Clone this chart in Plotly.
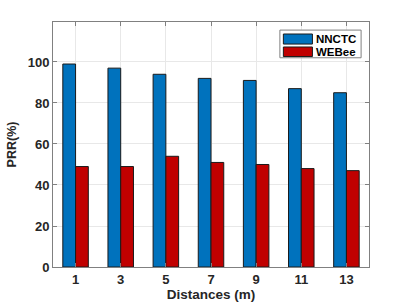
import plotly.graph_objects as go

distances = [1, 3, 5, 7, 9, 11, 13]
nnctc = [99, 97, 94, 92, 91, 87, 85]
webee = [49, 49, 54, 51, 50, 48, 47]
series_names = ["NNCTC", "WEBee"]
series_colors = ["#0072BD", "#C00000"]
y_ticks = [0, 20, 40, 60, 80, 100]

font_family = "Liberation Sans, Arial, sans-serif"
edge = "#1a1a1a"

fig = go.Figure()
for name, vals, col in zip(series_names, [nnctc, webee], series_colors):
    fig.add_trace(go.Bar(x=distances, y=vals, name=name,
                         marker=dict(color=col, line=dict(color=edge, width=1))))

axis_common = dict(showline=True, linecolor="#808080", linewidth=1, mirror="ticks",
                   ticks="inside", ticklen=4, tickcolor="#808080",
                   showgrid=True, gridcolor="#e8e8e8", zeroline=False, automargin=False,
                   tickfont=dict(family=font_family, size=13, color="#262626"))

fig.update_layout(
    template="none",
    width=407, height=305,
    margin=dict(l=53, r=38, t=22, b=38),
    paper_bgcolor="white", plot_bgcolor="white",
    barmode="group", bargap=0.435, bargroupgap=0,
    font=dict(family=font_family, color="#262626"),
    showlegend=False,
    xaxis=dict(range=[0, 14], tickvals=distances, ticktext=[f"<b>{d}</b>" for d in distances],
               title=dict(text="<b>Distances (m)</b>", font=dict(size=13.5), standoff=3),
               **axis_common),
    yaxis=dict(range=[0, 119.5], tickvals=y_ticks,
               ticktext=[f"<b>{t}</b>" for t in y_ticks],
               title=dict(text="<b>PRR(%)</b>", font=dict(size=12.5), standoff=8),
               **axis_common),
)

# Custom MATLAB-style legend (paper coordinates of the plot area)
fig.add_shape(type="rect", xref="paper", yref="paper", x0=0.718, x1=0.975, y0=0.854, y1=0.967,
              line=dict(color="#808080", width=1), fillcolor="white", layer="above")
rows = [(0.910, 0.951, 0.931), (0.859, 0.898, 0.878)]
for (y0, y1, yc), name, col in zip(rows, series_names, series_colors):
    fig.add_shape(type="rect", xref="paper", yref="paper", x0=0.729, x1=0.821, y0=y0, y1=y1,
                  line=dict(color=edge, width=1), fillcolor=col, layer="above")
    fig.add_annotation(xref="paper", yref="paper", x=0.827, y=yc, xanchor="left", yanchor="middle",
                       text=f"<b>{name}</b>", showarrow=False,
                       font=dict(family=font_family, size=11.5, color="#000000"))

fig.write_html("out.html", config={"displayModeBar": False},
               post_script="document.body.style.margin='0';document.body.style.overflow='hidden';")
